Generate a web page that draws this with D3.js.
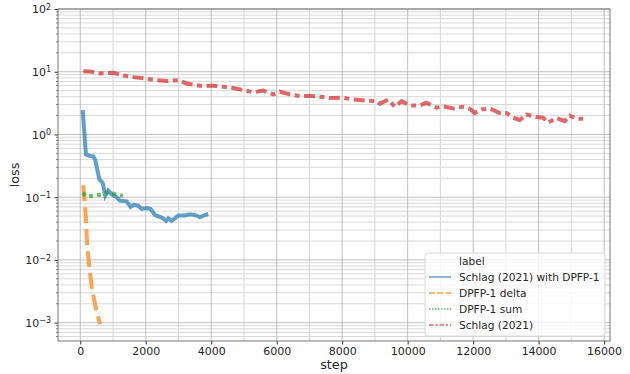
<!DOCTYPE html>
<html>
<head>
<meta charset="utf-8">
<script src="https://cdn.jsdelivr.net/npm/d3@7"></script>
<style>
  body { margin: 0; background: #fff; }
  text { font-family: 'DejaVu Sans', sans-serif; fill: #262626; }
</style>
</head>
<body>
<div id="chart-area"></div>
<script>
// series data
const blueSteps = [73, 174, 317, 397, 458, 580, 684, 764, 855, 958, 1111, 1212, 1416, 1539, 1640, 1771, 1875, 2027, 2150, 2281, 2413, 2535, 2617, 2688, 2791, 2892, 2993, 3197, 3298, 3402, 3554, 3655, 3808, 3909];
const blueLoss = [2.45, 0.48, 0.45, 0.45, 0.39, 0.195, 0.169, 0.106, 0.128, 0.112, 0.10, 0.088, 0.086, 0.070, 0.076, 0.073, 0.065, 0.067, 0.065, 0.052, 0.049, 0.046, 0.042, 0.046, 0.042, 0.046, 0.051, 0.051, 0.053, 0.053, 0.051, 0.048, 0.052, 0.054];

const deltaSteps = [90, 130, 175, 215, 250, 275, 310, 350, 400, 450, 500, 550, 600];
const deltaLoss = [0.155, 0.09, 0.044, 0.016, 0.011, 0.0078, 0.0055, 0.0037, 0.0027, 0.002, 0.0015, 0.0012, 0.00095];

const sumSteps = [73, 200, 350, 500, 650, 800, 900, 1000, 1100, 1200, 1300];
const sumLoss = [0.118, 0.102, 0.105, 0.108, 0.11, 0.118, 0.12, 0.115, 0.11, 0.108, 0.105];

const redSteps = [92, 296, 601, 1008, 1313, 1618, 1923, 2332, 2637, 2992, 3248, 3654, 4060, 4366, 4671, 4976, 5281, 5587, 5892, 6097, 6402, 6707, 7013, 7318, 7623, 8030, 8335, 8742, 9048, 9150, 9403, 9608, 9812, 10065, 10371, 10574, 10880, 11083, 11388, 11694, 11897, 12050, 12254, 12508, 12814, 13017, 13220, 13424, 13627, 13933, 14136, 14289, 14544, 14798, 14951, 15154, 15358];
const redLoss = [10.2, 10.1, 9.4, 9.6, 8.7, 8.2, 7.9, 7.3, 7.1, 7.35, 6.5, 6.0, 6.0, 5.75, 5.5, 5.1, 4.7, 5.0, 4.35, 4.8, 4.35, 4.1, 4.15, 4.0, 3.8, 3.85, 3.6, 3.45, 3.4, 3.1, 3.6, 2.77, 3.4, 2.9, 2.9, 3.2, 2.67, 2.8, 2.6, 2.77, 2.57, 2.2, 2.5, 2.6, 2.2, 2.2, 1.85, 1.7, 2.08, 1.9, 1.85, 1.54, 1.83, 1.63, 2.0, 1.78, 1.78];

const labels = ['Schlag (2021) with DPFP-1', 'DPFP-1 delta', 'DPFP-1 sum', 'Schlag (2021)'];
const colors = ['#1f77b4', '#ff7f0e', '#2ca02c', '#d62728'];
const dashes = [null, '16,6', '4,4', '11,4.5,5,4.5'];
const legendDashes = [null, '6,2.25', '1.5,1.5', '4.5,1.9,2.25,1.9'];

const xTicks = [0, 2000, 4000, 6000, 8000, 10000, 12000, 14000, 16000];
const yTicks = [1e-3, 1e-2, 1e-1, 1e0, 1e1, 1e2];
const yExps = ['\u22123', '\u22122', '\u22121', '0', '1', '2'];

// layout
const W = 630, H = 374;
const margin = { left: 58, right: 20, top: 9, bottom: 33 };
const width = W - margin.left - margin.right;
const height = H - margin.top - margin.bottom;

const svg = d3.select('#chart-area')
  .append('svg')
  .attr('width', W)
  .attr('height', H);

const g = svg.append('g')
  .attr('transform', 'translate(' + margin.left + ',' + margin.top + ')');

const x = d3.scaleLinear().domain([-680, 16180]).range([0, width]);
const y = d3.scaleLog().domain([5.1e-4, 100]).range([height, 0]);

// minor ticks
const xMinor = d3.range(-1000, 17000, 1000).filter(v => v % 2000 !== 0 && v >= x.domain()[0] && v <= x.domain()[1]);
const yMinor = [];
[-4, -3, -2, -1, 0, 1].forEach(e => {
  for (let m = 2; m <= 9; m++) {
    const v = m * Math.pow(10, e);
    if (v >= y.domain()[0] && v <= y.domain()[1]) yMinor.push(v);
  }
});

// grid
const grid = g.append('g').attr('class', 'grid');
grid.selectAll('.ymin').data(yMinor).enter().append('line')
  .attr('x1', 0).attr('x2', width)
  .attr('y1', d => y(d)).attr('y2', d => y(d))
  .attr('stroke', '#cfcfcf').attr('stroke-width', 0.8);
grid.selectAll('.xmin').data(xMinor).enter().append('line')
  .attr('y1', 0).attr('y2', height)
  .attr('x1', d => x(d)).attr('x2', d => x(d))
  .attr('stroke', '#d6d6d6').attr('stroke-width', 1);
grid.selectAll('.ymaj').data(yTicks).enter().append('line')
  .attr('x1', 0).attr('x2', width)
  .attr('y1', d => y(d)).attr('y2', d => y(d))
  .attr('stroke', '#b0b0b0').attr('stroke-width', 0.8);
grid.selectAll('.xmaj').data(xTicks).enter().append('line')
  .attr('y1', 0).attr('y2', height)
  .attr('x1', d => x(d)).attr('x2', d => x(d))
  .attr('stroke', '#b0b0b0').attr('stroke-width', 0.8);

// series lines
const series = [
  [blueSteps, blueLoss],
  [deltaSteps, deltaLoss],
  [sumSteps, sumLoss],
  [redSteps, redLoss]
];
const line = d3.line().x(d => x(d[0])).y(d => y(d[1]));

series.forEach((s, i) => {
  const pts = s[0].map((st, j) => [st, s[1][j]]);
  g.append('path')
    .datum(pts)
    .attr('fill', 'none')
    .attr('stroke', colors[i])
    .attr('stroke-opacity', 0.7)
    .attr('stroke-width', 4)
    .attr('stroke-dasharray', dashes[i])
    .attr('d', line);
});

// axes
const xAxis = g.append('g')
  .attr('transform', 'translate(0,' + height + ')')
  .call(d3.axisBottom(x).tickValues(xTicks).tickSize(3.5).tickPadding(3).tickFormat(d3.format('d')));
xAxis.select('.domain').remove();
xAxis.selectAll('line').attr('stroke', '#333');
xAxis.selectAll('text').attr('font-size', '11px').style('font-family', "'DejaVu Sans', sans-serif").attr('fill', '#262626');

const yAxis = g.append('g')
  .call(d3.axisLeft(y).tickValues(yTicks).tickSize(3.5).tickPadding(3).tickFormat(''));
yAxis.select('.domain').remove();
yAxis.selectAll('line').attr('stroke', '#333');
yAxis.selectAll('.tick').append('text')
  .attr('x', -7).attr('dy', '0.35em')
  .attr('text-anchor', 'end')
  .attr('font-size', '11px')
  .each(function (d, i) {
    const t = d3.select(this);
    t.append('tspan').text('10');
    t.append('tspan').attr('font-size', '8px').attr('dy', '-0.45em').text(yExps[i]);
  });

// minor ticks on the left
g.selectAll('.ymtick').data(yMinor).enter().append('line')
  .attr('x1', -2).attr('x2', 0)
  .attr('y1', d => y(d)).attr('y2', d => y(d))
  .attr('stroke', '#333').attr('stroke-width', 0.6);

// frame
g.append('rect')
  .attr('width', width).attr('height', height)
  .attr('fill', 'none')
  .attr('stroke', '#555').attr('stroke-width', 0.8);

// labels
svg.append('text')
  .attr('x', margin.left + width / 2)
  .attr('y', 369)
  .attr('text-anchor', 'middle')
  .attr('font-size', '12.8px')
  .text('step');

svg.append('text')
  .attr('transform', 'translate(19,' + (margin.top + height / 2) + ') rotate(-90)')
  .attr('text-anchor', 'middle')
  .attr('font-size', '12.8px')
  .text('loss');

// legend
const leg = svg.append('g').attr('transform', 'translate(425,253)');
leg.append('rect')
  .attr('width', 180).attr('height', 83)
  .attr('rx', 3)
  .attr('fill', '#fff').attr('fill-opacity', 0.8)
  .attr('stroke', '#d0d0d0').attr('stroke-width', 0.8);
leg.append('text')
  .attr('x', 34).attr('y', 12).attr('font-size', '10.6px')
  .text('label');
labels.forEach((lab, i) => {
  const cy = 24 + i * 16;
  leg.append('line')
    .attr('x1', 4).attr('x2', 26)
    .attr('y1', cy).attr('y2', cy)
    .attr('stroke', colors[i]).attr('stroke-opacity', 0.7)
    .attr('stroke-width', 1.5)
    .attr('stroke-dasharray', legendDashes[i]);
  leg.append('text')
    .attr('x', 34).attr('y', cy + 4)
    .attr('font-size', '10.6px')
    .text(lab);
});
</script>
</body>
</html>
